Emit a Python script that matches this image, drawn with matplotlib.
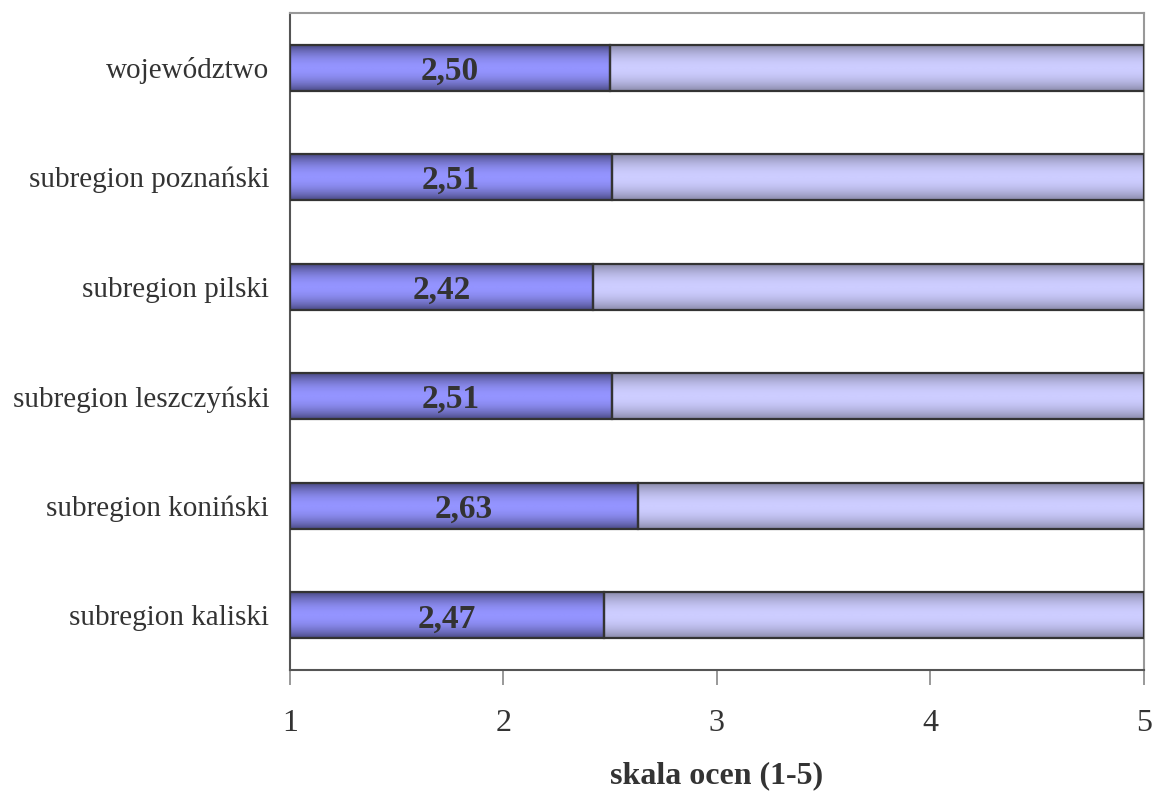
import numpy as np
import matplotlib
matplotlib.use("Agg")
import matplotlib.pyplot as plt
from matplotlib.colors import LinearSegmentedColormap

plt.rcParams.update({
    "font.family": "Liberation Serif",
    "text.color": "#333333",
    "axes.labelcolor": "#333333",
    "xtick.color": "#333333",
    "ytick.color": "#333333",
})

# bottom to top, as drawn
categories = ["subregion kaliski", "subregion koniński", "subregion leszczyński",
              "subregion pilski", "subregion poznański", "województwo"]
scores = [2.47, 2.63, 2.51, 2.42, 2.51, 2.50]
labels = ["2,47", "2,63", "2,51", "2,42", "2,51", "2,50"]
scale_min, scale_max = 1, 5
xticks = [1, 2, 3, 4, 5]

BAR_H = 0.42
dark_cmap = LinearSegmentedColormap.from_list("dk", ["#4a4a84", "#9494ff"])
light_cmap = LinearSegmentedColormap.from_list("lt", ["#8a8aaa", "#cdcdff"])

# vertical shading profile: dark at the edges, bright in the middle
t = np.linspace(-1, 1, 101)
profile = (1 - np.abs(t) ** 2.0)[:, None]


def shaded_bar(ax, y, left, width, cmap):
    ax.imshow(profile, cmap=cmap, vmin=0, vmax=1, aspect="auto",
              origin="lower", interpolation="bilinear",
              extent=(left, left + width, y - BAR_H / 2, y + BAR_H / 2),
              zorder=2)
    ax.barh(y, width, left=left, height=BAR_H, facecolor="none",
            edgecolor="#333333", linewidth=1.6, zorder=3)


fig = plt.figure(figsize=(11.53, 7.92), dpi=100)
ax = fig.add_axes([0.2515, 0.154, 0.7405, 0.8296])

y = np.arange(len(categories))
for yi, val, lab in zip(y, scores, labels):
    shaded_bar(ax, yi, scale_min, val - scale_min, dark_cmap)
    shaded_bar(ax, yi, val, scale_max - val, light_cmap)
    ax.text((scale_min + val) / 2, yi, lab, ha="center", va="center_baseline",
            fontsize=24, fontweight="bold", color="#333333", zorder=4)

ax.set_xlim(scale_min, scale_max)
ax.set_ylim(-0.5, len(categories) - 0.5)
ax.set_xticks(xticks)
ax.set_xticklabels([str(v) for v in xticks], fontsize=23)
ax.set_yticks(y)
ax.set_yticklabels(categories, fontsize=21)
ax.tick_params(axis="y", length=0, pad=15)
ax.tick_params(axis="x", length=11, width=1.2, color="#888888", pad=17)

for side in ["top", "right"]:
    ax.spines[side].set_color("#999999")
    ax.spines[side].set_linewidth(1.5)
for side in ["left", "bottom"]:
    ax.spines[side].set_color("#555555")
    ax.spines[side].set_linewidth(1.5)

ax.set_xlabel("skala ocen (1-5)", fontsize=23, fontweight="bold", labelpad=17)

fig.savefig("out.png", dpi=100)
